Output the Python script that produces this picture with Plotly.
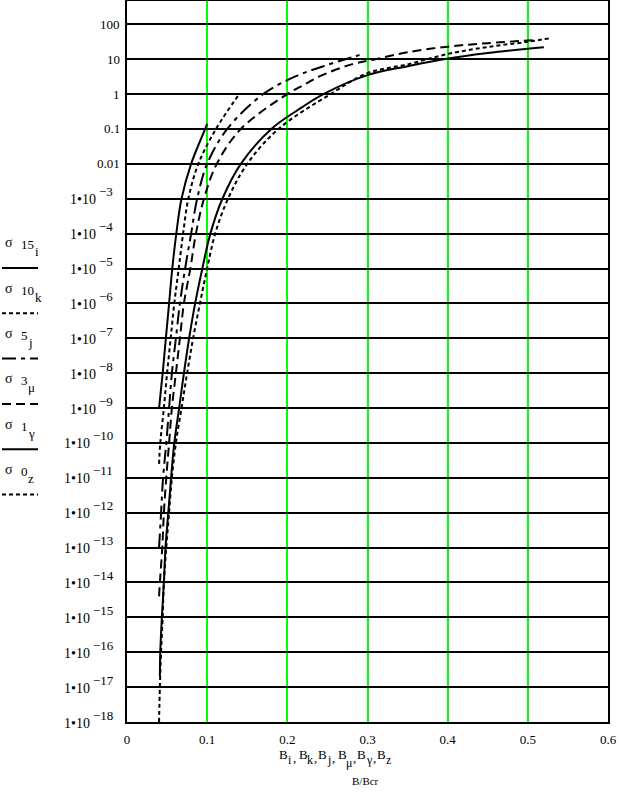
import plotly.graph_objects as go

# ---------------- data ----------------
B_i = [0.040, 0.0445, 0.0485, 0.0525, 0.0565, 0.0615, 0.068, 0.080, 0.0975, 0.100]
sigma_15 = [1e-9, 1e-8, 1e-7, 1e-6, 1e-5, 1e-4, 1e-3, 1e-2, 1e-1, 0.14]

B_k = [0.040, 0.0415, 0.046, 0.050, 0.0545, 0.059, 0.0645, 0.070, 0.0765, 0.089, 0.111, 0.140]
sigma_10 = [2.5e-11, 1e-10, 1e-9, 1e-8, 1e-7, 1e-6, 1e-5, 1e-4, 1e-3, 1e-2, 1e-1, 1.0]

B_j = [0.040, 0.0425, 0.045, 0.049, 0.0525, 0.056, 0.061, 0.066, 0.0725, 0.080, 0.0875,
       0.100, 0.125, 0.170, 0.210, 0.245, 0.280, 0.290]
sigma_5 = [1e-13, 1e-12, 1e-11, 1e-10, 1e-9, 1e-8, 1e-7, 1e-6, 1e-5, 1e-4, 1e-3,
           1e-2, 1e-1, 1.0, 3.2, 6.3, 11.2, 13.2]

B_mu = [0.040, 0.041, 0.044, 0.046, 0.049, 0.0525, 0.056, 0.061, 0.066, 0.071, 0.079, 0.086,
        0.096, 0.112, 0.142, 0.200, 0.220, 0.240, 0.280, 0.310, 0.350, 0.400, 0.450, 0.510]
sigma_3 = [4e-15, 1e-14, 1e-13, 1e-12, 1e-11, 1e-10, 1e-9, 1e-8, 1e-7, 1e-6, 1e-5, 1e-4,
           1e-3, 1e-2, 1e-1, 1.0, 1.8, 3.2, 7.1, 10.0, 15.8, 22.9, 28.8, 35.5]

B_gamma = [0.041, 0.0415, 0.0435, 0.046, 0.048, 0.0515, 0.055, 0.059, 0.065, 0.071, 0.0775,
           0.085, 0.094, 0.104, 0.119, 0.142, 0.180, 0.217, 0.245, 0.300, 0.350, 0.395,
           0.450, 0.500, 0.520]
sigma_1 = [2e-17, 1e-16, 1e-15, 1e-14, 1e-13, 1e-12, 1e-11, 1e-10, 1e-9, 1e-8, 1e-7,
           1e-6, 1e-5, 1e-4, 1e-3, 1e-2, 1e-1, 0.4, 1.0, 3.5, 6.3, 10.0, 15.1, 20.0, 21.9]

B_z = [0.040, 0.041, 0.0425, 0.0445, 0.046, 0.049, 0.0525, 0.056, 0.061, 0.068, 0.075,
       0.0825, 0.091, 0.100, 0.110, 0.126, 0.150, 0.189, 0.254, 0.300, 0.350, 0.400,
       0.450, 0.500, 0.530]
sigma_0 = [1e-18, 1e-17, 1e-16, 1e-15, 1e-14, 1e-13, 1e-12, 1e-11, 1e-10, 1e-9, 1e-8,
           1e-7, 1e-6, 1e-5, 1e-4, 1e-3, 1e-2, 1e-1, 1.0, 4.0, 7.1, 14.1, 22.4, 31.6, 40.7]

x_ticks = [0, 0.1, 0.2, 0.3, 0.4, 0.5, 0.6]
x_ticktext = ["0", "0.1", "0.2", "0.3", "0.4", "0.5", "0.6"]
y_exponents = list(range(2, -19, -1))
y_plain = {2: "100", 1: "10", 0: "1", -1: "0.1", -2: "0.01"}

legend_names = ["15", "10", "5", "3", "1", "0"]
legend_index = ["i", "k", "j", "μ", "γ", "z"]
x_title_index = ["i", "k", "j", "μ", "γ", "z"]

# ---------------- styles ----------------
FONT = "Liberation Serif, Times New Roman, serif"
styles = [
    dict(color="black", width=2, dash="solid"),
    dict(color="black", width=2, dash="4px,3px"),
    dict(color="black", width=2, dash="14px,5px,4px,5px"),
    dict(color="black", width=2, dash="9px,5px"),
    dict(color="black", width=2, dash="solid"),
    dict(color="black", width=2, dash="4px,3px"),
]

series = [(B_i, sigma_15), (B_k, sigma_10), (B_j, sigma_5),
          (B_mu, sigma_3), (B_gamma, sigma_1), (B_z, sigma_0)]

fig = go.Figure()
for (xs, ys), st, nm in zip(series, styles, legend_names):
    fig.add_trace(go.Scatter(x=xs, y=ys, mode="lines", line=dict(shape="spline", smoothing=1.0, **st),
                             name="σ " + nm, showlegend=False, hoverinfo="skip"))

W, H = 619, 793
L, R, T, B = 127, 11, 1, 71

fig.update_xaxes(range=[0, 0.6], tickvals=x_ticks, ticktext=x_ticktext, automargin=False,
                 showgrid=True, gridcolor="#00ff00", gridwidth=2,
                 showline=True, linecolor="black", linewidth=2, mirror=True,
                 zeroline=False, ticks="", ticklabelstandoff=4,
                 tickfont=dict(family=FONT, size=13, color="black"))
fig.update_yaxes(type="log", range=[-18, 2.668], tickvals=[10.0 ** e for e in y_exponents],
                 showticklabels=False, automargin=False,
                 showgrid=True, gridcolor="black", gridwidth=2,
                 showline=True, linecolor="black", linewidth=2, mirror=True,
                 zeroline=False, ticks="")

pw = W - L - R
ph = H - T - B


def pxx(px):
    return (px - L) / pw


def pxy(py):
    return (H - B - py) / ph


annotations = []
shapes = []


def txt(x, y, s, size=13, xanchor="left", yref="paper", yshift=0):
    annotations.append(dict(x=x, y=y, xref="paper", yref=yref, text=s, showarrow=False,
                            xanchor=xanchor, yanchor="middle", yshift=yshift,
                            font=dict(family=FONT, size=size, color="black")))


# y tick labels (Mathcad style 1•10^-n)
for e in y_exponents:
    if e in y_plain:
        txt(pxx(122), e, y_plain[e], xanchor="right", yref="y")
    else:
        nd = len(str(-e))
        split = 112 - 9 - 6 * nd
        txt(pxx(split + 1), e, "1•10", size=14, xanchor="right", yref="y", yshift=-1)
        txt(pxx(split), e, "−%d" % (-e), size=13, xanchor="left", yref="y", yshift=7)

# legend on the left (text above a line sample)
for n, (num, idx, st) in enumerate(zip(legend_names, legend_index, styles)):
    base = 243 + n * 45.3
    txt(pxx(3), pxy(base), "σ", size=14)
    txt(pxx(19), pxy(base + 2), num, size=13)
    txt(pxx(19 + 7 * len(num)), pxy(base + 9), idx, size=13)
    shapes.append(dict(type="line", xref="paper", yref="paper", x0=pxx(2), x1=pxx(38),
                       y0=pxy(base + 25), y1=pxy(base + 25),
                       line=dict(color="black", width=2, dash=st["dash"])))

# x axis title: B_i ,B_k ,B_j ,B_mu ,B_gamma ,B_z
for n, idx in enumerate(x_title_index):
    bx = 277 + n * 19.6
    txt(pxx(bx), pxy(754), "B", size=13)
    txt(pxx(bx + 8.5), pxy(760 if idx != "μ" else 763), idx, size=12)
    if n < len(x_title_index) - 1:
        txt(pxx(bx + 13.5 + (2 if idx in "kμγ" else 0)), pxy(757), ",", size=13)
txt(pxx(365), pxy(781), "B/Bcr", size=11, xanchor="center")

fig.update_layout(width=W, height=H, margin=dict(l=L, r=R, t=T, b=B),
                  paper_bgcolor="white", plot_bgcolor="white",
                  annotations=annotations, shapes=shapes, showlegend=False)

fig.write_html("out.html", config={"displayModeBar": False},
               post_script="document.body.style.margin='0';document.body.style.overflow='hidden';")
